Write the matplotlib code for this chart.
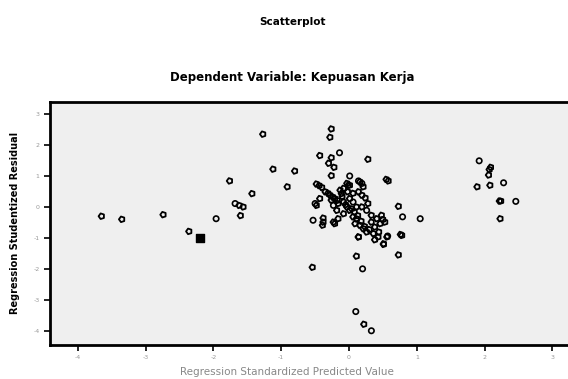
import matplotlib.pyplot as plt

# points drawn as open circles
circ_x = [-1.96, -1.68, -0.14, 0.01, -0.53, 0.79, 1.05, 0.10, 0.33, 0.20,
          0.57, 1.92, 2.28, 2.46, 0.14, 0.19, -0.50, 0.06, 0.26, -0.23]
circ_y = [-0.37, 0.12, 1.76, 1.01, -0.42, -0.31, -0.37, -3.37, -3.99, -1.99,
          -0.93, 1.50, 0.79, 0.19, 0.85, 0.77, 0.12, 0.17, -0.10, 0.06]

# points drawn as pentagon-like symbols
pent_x = [-3.65, -3.35, -2.74, -2.36, -1.62, -1.56, -1.60, -1.76, -1.43, -1.27,
          -1.12, -0.91, -0.80, -0.26, -0.28, -0.43, -0.26, -0.22, -0.30, 0.28,
          -0.26, 0.55, 0.58, -0.01, 0.73, 0.76, 0.78, 0.73, 0.11, -0.54,
          0.22, -0.38, -0.39, -0.21, -0.48, 0.38, 0.51, 0.14, 2.09, 2.07,
          2.06, 2.08, 1.89, 2.22, 2.24, 2.23,
          -0.48, -0.40, -0.35, -0.28, -0.21, -0.13, -0.08, -0.11, -0.16, -0.08,
          -0.03, 0.01, 0.11, 0.09, 0.16, 0.21, 0.26, 0.14, -0.18, -0.26,
          0.01, 0.11, 0.14, 0.19, 0.21, 0.16, 0.01, -0.03, 0.28, 0.33,
          0.41, 0.48, 0.53, 0.46, 0.33, 0.38, -0.43, -0.38, -0.23, 0.43,
          0.56, 0.51, 0.06, -0.08, 0.19, -0.16,
          -0.44, -0.31, -0.24, -0.17, -0.05, 0.04, 0.08, 0.13, 0.18, 0.23,
          0.30, 0.36, -0.10, -0.02, 0.06, 0.24, 0.44, 0.50]
pent_y = [-0.29, -0.39, -0.24, -0.78, 0.06, 0.01, -0.27, 0.85, 0.44, 2.36,
          1.23, 0.66, 1.17, 2.53, 2.26, 1.67, 1.60, 1.29, 1.42, 1.55,
          1.02, 0.90, 0.85, 0.71, 0.03, -0.88, -0.91, -1.54, -1.58, -1.94,
          -3.78, -0.35, -0.58, -0.53, 0.06, -1.05, -1.20, -0.96, 1.29, 1.22,
          1.04, 0.71, 0.66, 0.20, 0.20, -0.37,
          0.75, 0.64, 0.50, 0.39, 0.28, 0.55, 0.61, 0.44, 0.12, 0.17,
          0.01, -0.10, -0.37, -0.53, -0.58, -0.69, -0.80, -0.96, -0.10, 0.23,
          0.28, 0.01, 0.50, 0.39, 0.66, 0.82, 0.71, 0.77, 0.12, -0.26,
          -0.37, -0.26, -0.48, -0.53, -0.48, -0.64, 0.28, -0.48, -0.48, -0.96,
          -0.96, -1.18, -0.31, -0.21, 0.01, -0.37,
          0.70, 0.45, 0.33, 0.22, 0.08, -0.05, -0.15, -0.27, -0.45, -0.62,
          -0.72, -0.85, 0.35, 0.50, 0.45, 0.30, -0.80, -0.40]

# filled square
sq_x = [-2.20]
sq_y = [-1.00]

x_ticks = [-4, -3, -2, -1, 0, 1, 2, 3]
y_ticks = [3, 2, 1, 0, -1, -2, -3, -4]

fig = plt.figure(figsize=(5.68, 3.79), dpi=100)
ax = fig.add_axes([50 / 568, 1 - 345 / 379, 1 - 50 / 568, (345 - 102) / 379])
ax.set_facecolor('#efefef')

ax.scatter(circ_x, circ_y, s=15, marker='o', facecolors='none',
           edgecolors='black', linewidths=1.2)
ax.scatter(pent_x, pent_y, s=18, marker=(5, 0, 90), facecolors='none',
           edgecolors='black', linewidths=1.3)
ax.scatter(sq_x, sq_y, s=40, marker='s', facecolors='black',
           edgecolors='black', linewidths=1.0)

ax.set_xlim(-4.41, 3.23)
ax.set_ylim(-4.45, 3.4)
ax.set_xticks(x_ticks)
ax.set_yticks(y_ticks)
ax.set_xticklabels([str(t) for t in x_ticks])
ax.set_yticklabels([str(t) for t in y_ticks])
ax.tick_params(axis='both', direction='out', length=4, width=1.2,
               labelsize=4.5, labelcolor='#999999', color='black')

for side in ['left', 'top', 'bottom']:
    ax.spines[side].set_linewidth(2)
    ax.spines[side].set_color('black')
ax.spines['right'].set_visible(False)

fig.text(287 / 568, 1 - 372 / 379, 'Regression Standardized Predicted Value',
         ha='center', va='center', fontsize=7.5, color='#888888')
fig.text(15 / 568, 1 - 223 / 379, 'Regression Studentized Residual',
         ha='center', va='center', rotation=90, fontsize=7,
         fontweight='bold', color='black')
fig.text(293 / 568, 1 - 22 / 379, 'Scatterplot', ha='center', va='center',
         fontsize=7.5, fontweight='bold')
fig.text(292 / 568, 1 - 78 / 379, 'Dependent Variable: Kepuasan Kerja',
         ha='center', va='center', fontsize=8.5, fontweight='bold')

fig.savefig('out.png', dpi=100)
